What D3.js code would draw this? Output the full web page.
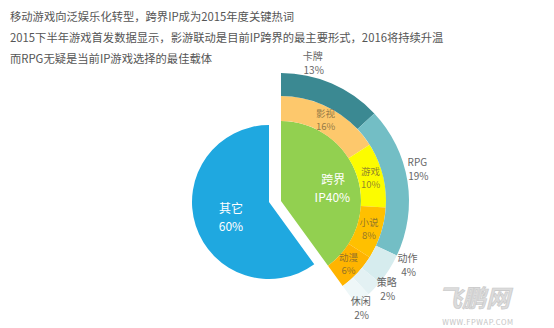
<!DOCTYPE html>
<html><head><meta charset="utf-8">
<script src="https://cdn.jsdelivr.net/npm/d3@7"></script>
<style>
html,body{margin:0;padding:0;background:#fff;}
svg{display:block;font-family:"Noto Sans CJK SC","Noto Sans",sans-serif;}
</style></head>
<body><svg id="c" width="554" height="328"></svg>
<script>
// ---- data ----
const titleLines = [
  "移动游戏向泛娱乐化转型，跨界IP成为2015年度关键热词",
  "2015下半年游戏首发数据显示，影游联动是目前IP跨界的最主要形式，2016将持续升温",
  "而RPG无疑是当前IP游戏选择的最佳载体"
];
const mainCats = ["跨界", "其它"];
const mainLabels = ["IP40%", "60%"];
const mainValues = [40, 60];
const innerCats = ["影视", "游戏", "小说", "动漫"];
const innerValues = [16, 10, 8, 6];
const outerCats = ["卡牌", "RPG", "动作", "策略", "休闲"];
const outerValues = [13, 19, 4, 2, 2];

// ---- styles / layout ----
const innerColors = ["#fdc86c", "#fcfc00", "#ffc000", "#ffb400"];
const outerColors = ["#3b8992", "#73bec5", "#d6ecee", "#e3f1f3", "#eef7f8"];
const blueColor = "#1fa8e0", greenColor = "#92d050";
const outerLabelAngle = [13, 77, 117, 130, 143.5]; // degrees, label anchors
const outerLabelRadius = [141, 140, 142, 138, 134];

const svg = d3.select("#c");

// title
svg.append("g").selectAll("text").data(titleLines).join("text")
  .attr("x", 10).attr("y", (d, i) => 21 + i * 21)
  .attr("font-size", 11.3).attr("fill", "#555").text(d => d);

const total = d3.sum(mainValues);
const angle = d3.scaleLinear().domain([0, total]).range([0, 2 * Math.PI]);

const pie = d3.pie().sort(null).value(d => d).startAngle(0).endAngle(2 * Math.PI);
const mainArcs = pie(mainValues);

// blue "其它" slice
const blueC = [269, 202], blueR = 77;
const gB = svg.append("g").attr("transform", `translate(${blueC})`);
const arcBlue = d3.arc().innerRadius(0).outerRadius(blueR);
gB.append("path").attr("d", arcBlue(mainArcs[1])).attr("fill", blueColor);
const blueLabelArc = d3.arc().innerRadius(0).outerRadius(blueR * 1.04);
const bc = blueLabelArc.centroid(mainArcs[1]);
gB.append("text").attr("x", bc[0]).attr("y", bc[1] - 6).attr("dy", "0.35em")
  .attr("text-anchor", "middle").attr("font-size", 12).attr("fill", "#fff").text(mainCats[1]);
gB.append("text").attr("x", bc[0]).attr("y", bc[1] + 12).attr("dy", "0.35em")
  .attr("text-anchor", "middle").attr("font-size", 12).attr("fill", "#fff").text(mainLabels[1]);

// green "跨界" slice with rings
const greenC = [281, 201], rG = 80, rIn = 105, rOut = 128;
const gG = svg.append("g").attr("transform", `translate(${greenC})`);
gG.append("path").attr("d", d3.arc().innerRadius(0).outerRadius(rG)(mainArcs[0])).attr("fill", greenColor);
const gl = d3.arc().innerRadius(28).outerRadius(rG).centroid(mainArcs[0]);
gG.append("text").attr("x", gl[0] + 1).attr("y", gl[1] - 5).attr("dy", "0.35em")
  .attr("text-anchor", "middle").attr("font-size", 12).attr("fill", "#fff").text(mainCats[0]);
gG.append("text").attr("x", gl[0]).attr("y", gl[1] + 13).attr("dy", "0.35em")
  .attr("text-anchor", "middle").attr("font-size", 12).attr("fill", "#fff").text(mainLabels[0]);

function ringPieces(vals) {
  let acc = 0;
  return vals.map(v => { const s = angle(acc); acc += v; return {startAngle: s, endAngle: angle(acc), value: v}; });
}
const innerP = ringPieces(innerValues);
const outerP = ringPieces(outerValues);
const arcIn = d3.arc().innerRadius(rG).outerRadius(rIn);
const arcOut = d3.arc().innerRadius(rIn).outerRadius(rOut);

gG.append("g").selectAll("path").data(innerP).join("path")
  .attr("d", arcIn).attr("fill", (d, i) => innerColors[i]);
gG.append("g").selectAll("path").data(outerP).join("path")
  .attr("d", arcOut).attr("fill", (d, i) => outerColors[i]);

// inner labels
innerP.forEach((d, i) => {
  const c = arcIn.centroid(d);
  const g = gG.append("g").attr("font-size", 9.5).attr("text-anchor", "middle").attr("fill", "#6e5c38").attr("fill-opacity", 0.75);
  g.append("text").attr("x", c[0]).attr("y", c[1] - 6.5).attr("dy", "0.35em").text(innerCats[i]);
  g.append("text").attr("x", c[0]).attr("y", c[1] + 6.5).attr("dy", "0.35em").text(innerValues[i] + "%");
});

// outer labels
outerP.forEach((d, i) => {
  const a = outerLabelAngle[i] * Math.PI / 180, r = outerLabelRadius[i];
  const x = Math.sin(a) * r, y = -Math.cos(a) * r;
  const g = gG.append("g").attr("font-size", 10).attr("text-anchor", "middle").attr("fill", "#666");
  g.append("text").attr("x", x).attr("y", y - 7).attr("dy", "0.35em").text(outerCats[i]);
  g.append("text").attr("x", x + 1).attr("y", y + 7).attr("dy", "0.35em").text(outerValues[i] + "%");
});

// watermark
const wm = svg.append("g");
wm.append("text").attr("x", 474).attr("y", 307).attr("text-anchor", "middle")
  .attr("font-size", 24).attr("font-weight", "bold").attr("font-style", "italic")
  .attr("fill", "#dcdcdc").attr("stroke", "#c8c8c8").attr("stroke-width", 0.6).text("飞鹏网");
wm.append("text").attr("x", 478).attr("y", 325).attr("text-anchor", "middle")
  .attr("font-size", 7.5).attr("letter-spacing", 0.6).attr("fill", "#c4c4c4").text("WWW.FPWAP.COM");
</script>
</body></html>
